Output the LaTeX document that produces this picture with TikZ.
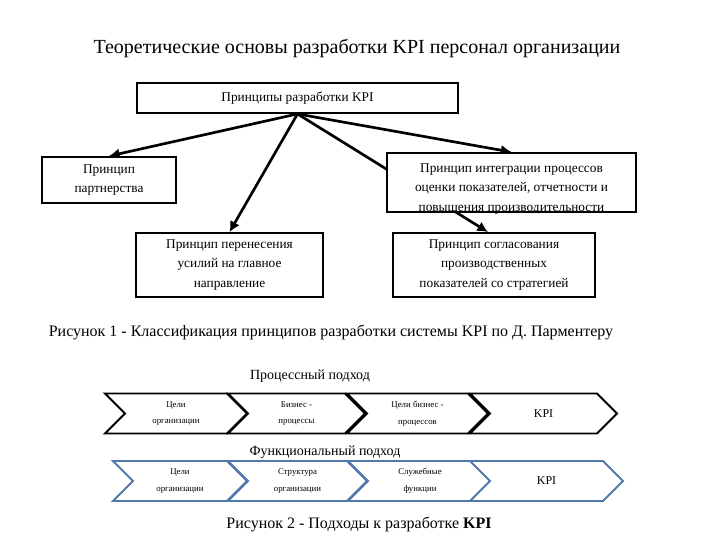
\documentclass[tikz,border=0pt]{standalone}
\usepackage{fontspec}
\setmainfont{Liberation Serif}
\usetikzlibrary{positioning,arrows.meta,shapes.symbols,backgrounds}
\definecolor{funcline}{HTML}{5079AA}
\newcommand{\fsz}[2]{\fontsize{#1}{#2}\selectfont}

\begin{document}
\begin{tikzpicture}[x=0.75pt, y=-0.75pt,
  font=\fsz{10}{14.5},
  box/.style={draw, line width=1.4pt, fill=white, align=center, inner sep=2pt},
  flow/.style={-{Latex[length=8pt,width=8pt]}, line width=2pt},
  chev/.style={signal, signal from=west, signal to=east, signal pointer angle=90,
               draw, line width=1.4pt, fill=white, minimum height=30pt,
               align=center, font=\fsz{6.6}{12.5}, inner sep=1pt},
  fchev/.style={chev, draw=funcline},
  kpi/.style={font=\fsz{9}{12}},
  head/.style={font=\fsz{15}{18}},
  figcap/.style={font=\fsz{12}{15}},
  lab/.style={font=\fsz{10.5}{12}}]
\useasboundingbox (0,0) rectangle (720,540);
\node[head] (title) at (357,48) {Теоретические основы разработки KPI персонал организации};
% principles
\node[box, minimum width=240.75pt, minimum height=22.5pt] (main) at (297.5,98) {Принципы разработки KPI};
\node[box, minimum width=100.5pt, minimum height=34.5pt] (partner) at (109,180) {Принцип\\партнерства};
\node[box, minimum width=186.75pt, minimum height=44.25pt] (integr) at (511.5,182.5) {};
\node[align=center, anchor=north] (integrtxt) at (511.5,159)
  {Принцип интеграции процессов\\оценки показателей, отчетности и\\повышения производительности};
\node[box, minimum width=140.25pt, minimum height=48pt] (focus) at (229.5,265) {Принцип перенесения\\усилий на главное\\направление};
\node[box, minimum width=151.5pt, minimum height=48pt] (agree) at (494,265) {Принцип согласования\\производственных\\показателей со стратегией};
\begin{scope}[on background layer]
\draw[flow] (main.south) -- (partner.north);
\draw[flow] (main.south) -- (focus.north);
\draw[flow] (main.south) -- (integr.north);
\draw[flow] (main.south) -- ([xshift=-4.5pt]agree.north);
\end{scope}
\node[figcap] (cap1) at (331,332) {Рисунок 1 - Классификация принципов разработки системы KPI по Д. Парментеру};
% approaches
\node[lab] (plab) at (310,376) {Процессный подход};
\node[chev, minimum width=106.5pt] (pgoal) at (176,413.5) {Цели\\организации};
\node[chev, minimum width=102.75pt] (pproc) at (296.5,413.5) {Бизнес -\\процессы};
\node[chev, minimum width=105.75pt] (pgoalproc) at (417.5,413.5) {Цели бизнес -\\процессов};
\node[chev, kpi, minimum width=110.25pt] (pkpi) at (543.5,413.5) {KPI};
\node[lab] (flab) at (325,452) {Функциональный подход};
\node[fchev, minimum width=100.5pt] (fgoal) at (180,481) {Цели\\организации};
\node[fchev, minimum width=104.25pt] (fstruct) at (297.5,481) {Структура\\организации};
\node[fchev, minimum width=108pt] (fserv) at (420,481) {Служебные\\функции};
\node[fchev, kpi, minimum width=114.75pt] (fkpi) at (546.5,481) {KPI};
\node[figcap] (cap2) at (359,524) {Рисунок 2 - Подходы к разработке \textbf{KPI}};
\end{tikzpicture}
\end{document}
